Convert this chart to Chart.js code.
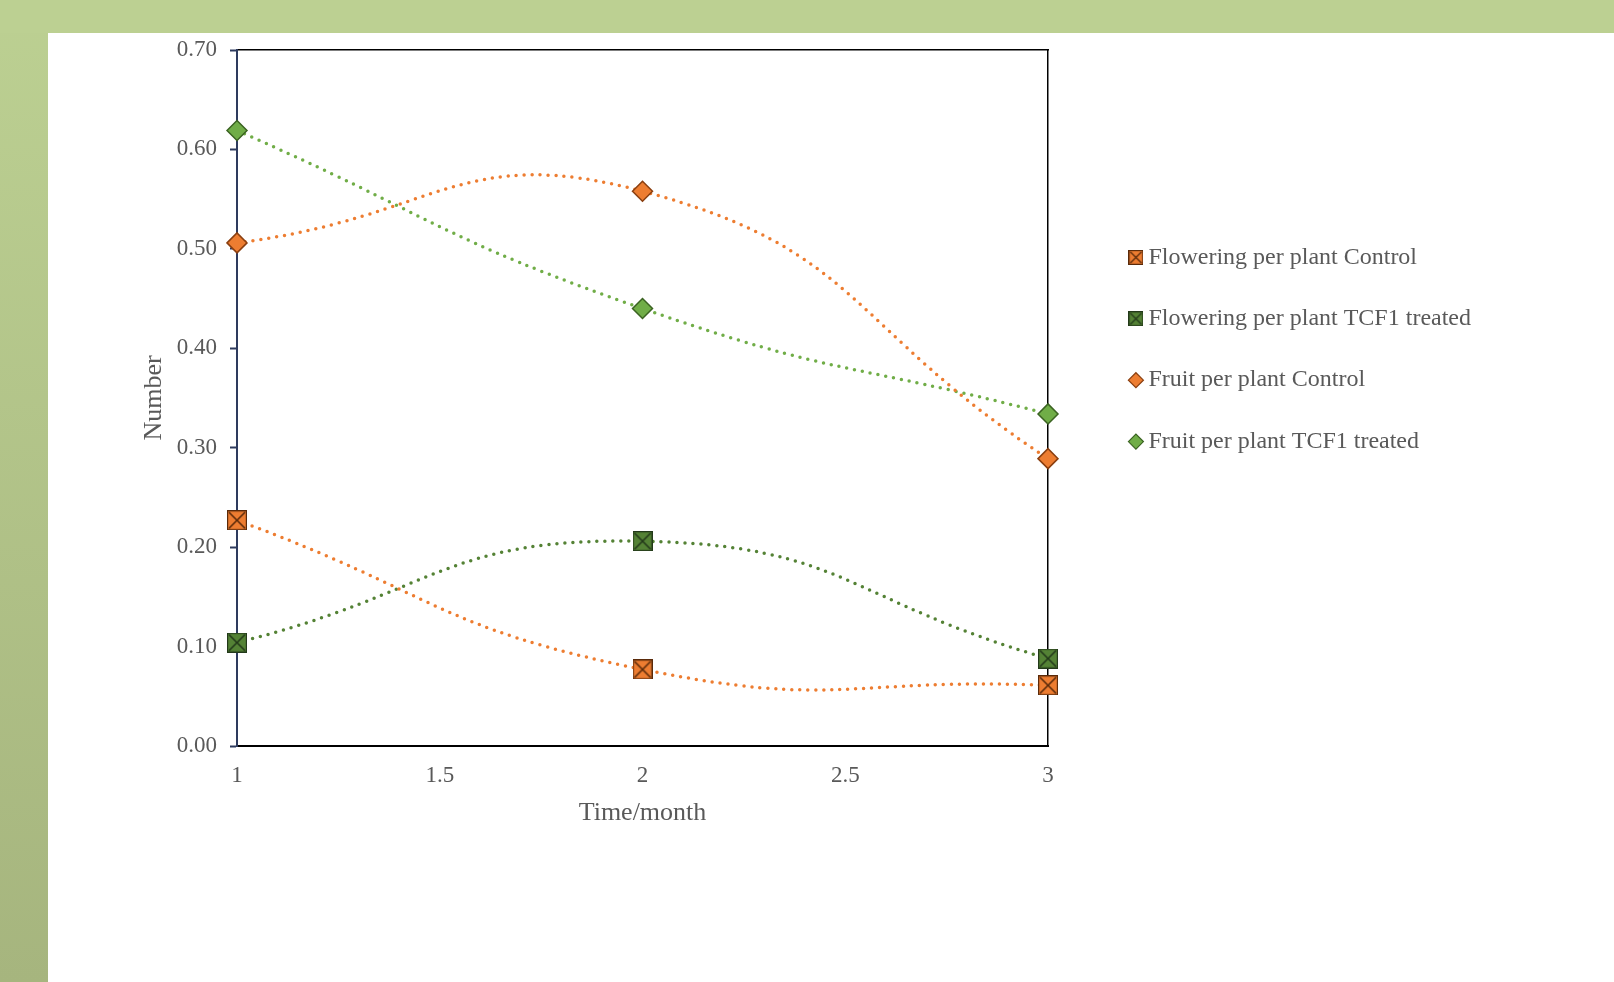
<!DOCTYPE html>
<html>
<head>
<meta charset="utf-8">
<script src="https://cdn.jsdelivr.net/npm/chart.js@4/dist/chart.umd.min.js"></script>
<style>
  html, body { margin: 0; padding: 0; }
  body {
    width: 1614px; height: 982px; overflow: hidden; position: relative;
    background: linear-gradient(to bottom, #bcd092, #a6b57e);
  }
  #topband { position: absolute; left: 0; top: 0; width: 1614px; height: 33px; background: #bcd092; }
  #panel { position: absolute; left: 48px; top: 33px; width: 1566px; height: 949px; background: #fff; }
</style>
</head>
<body>
<div id="topband"></div>
<div id="panel"><canvas id="myChart" width="1566" height="949"></canvas></div>
<script>
var months = [1, 2, 3];
var floweringControl = [0.227, 0.077, 0.061];
var floweringTreated = [0.104, 0.206, 0.088];
var fruitControl = [0.506, 0.558, 0.289];
var fruitTreated = [0.619, 0.440, 0.334];
var seriesLabels = ['Flowering per plant Control', 'Flowering per plant TCF1 treated',
    'Fruit per plant Control', 'Fruit per plant TCF1 treated'];

var orange = '#ED7D31', orangeDark = '#8a3f10';
var darkGreen = '#548235', darkGreenEdge = '#2f4a1c';
var lightGreen = '#70AD47', lightGreenEdge = '#3b6322';
var textGrey = '#595959';

// square marker with an X through it
function crossSquare(size, fill, edge) {
    var c = document.createElement('canvas');
    c.width = size; c.height = size;
    var g = c.getContext('2d');
    g.fillStyle = fill;
    g.fillRect(0, 0, size, size);
    g.strokeStyle = edge;
    g.lineWidth = 1.2;
    g.strokeRect(0.6, 0.6, size - 1.2, size - 1.2);
    g.lineWidth = size > 16 ? 1.6 : 1.3;
    g.beginPath();
    g.moveTo(2, 2); g.lineTo(size - 2, size - 2);
    g.moveTo(size - 2, 2); g.lineTo(2, size - 2);
    g.stroke();
    return c;
}
var sqOrange = crossSquare(20, orange, '#5a2a0a');
var sqGreen = crossSquare(20, darkGreen, '#23391a');
var sqOrangeSmall = crossSquare(15, orange, '#5a2a0a');
var sqGreenSmall = crossSquare(15, darkGreen, '#23391a');

function toPoints(vals) {
    return vals.map(function (v, i) { return { x: months[i], y: v }; });
}

function lineSet(label, vals, color, style, fill, edge, radius) {
    return {
        label: label,
        data: toPoints(vals),
        borderColor: color,
        borderWidth: 3.5,
        borderDash: [0, 8],
        borderCapStyle: 'round',
        tension: 0.5,
        clip: false,
        pointStyle: style,
        pointRadius: radius,
        pointHoverRadius: radius,
        pointBackgroundColor: fill,
        pointBorderColor: edge,
        pointBorderWidth: 1.5,
        backgroundColor: fill
    };
}

Chart.defaults.font.family = '"Liberation Serif", "Times New Roman", serif';
Chart.defaults.color = textGrey;

var ctx = document.getElementById('myChart').getContext('2d');
var myChart = new Chart(ctx, {
    type: 'line',
    data: {
        datasets: [
            lineSet(seriesLabels[0], floweringControl, orange, sqOrange, orange, orangeDark, 10),
            lineSet(seriesLabels[1], floweringTreated, darkGreen, sqGreen, darkGreen, darkGreenEdge, 10),
            lineSet(seriesLabels[2], fruitControl, orange, 'rectRot', orange, orangeDark, 10),
            lineSet(seriesLabels[3], fruitTreated, lightGreen, 'rectRot', lightGreen, lightGreenEdge, 10)
        ]
    },
    options: {
        responsive: false,
        animation: false,
        layout: { padding: { left: 0, top: 17, right: 133, bottom: 153 } },
        scales: {
            x: {
                type: 'linear',
                min: 1,
                max: 3,
                afterFit: function (s) { s.height = 83; },
                ticks: {
                    stepSize: 0.5, padding: 16, font: { size: 23 }, color: textGrey,
                    callback: function (v) { return String(v); }
                },
                grid: { display: true, drawOnChartArea: false, drawTicks: false, color: '#000' },
                border: { display: true, color: '#000', width: 2 },
                title: { display: true, text: 'Time/month', font: { size: 26 }, color: textGrey, padding: { top: 0, bottom: 0 } }
            },
            x2: {
                type: 'linear',
                position: 'top',
                min: 1,
                max: 3,
                afterFit: function (s) { s.height = 0; },
                ticks: { display: false },
                grid: { drawOnChartArea: false, drawTicks: false },
                border: { display: true, color: '#000', width: 1.5 }
            },
            y: {
                min: 0,
                max: 0.7,
                afterFit: function (s) { s.width = 189; s.paddingTop = 0; s.paddingBottom = 0; },
                ticks: {
                    stepSize: 0.1,
                    padding: 13,
                    font: { size: 23 },
                    color: textGrey,
                    callback: function (v) { return v.toFixed(2); }
                },
                grid: { drawOnChartArea: false, drawTicks: true, tickLength: 7, color: '#2e3b5e', tickWidth: 2 },
                border: { display: true, color: '#2e3b5e', width: 2 },
                title: { display: true, text: 'Number', font: { size: 26 }, color: textGrey, padding: { top: 91, bottom: 0 } }
            },
            y2: {
                position: 'right',
                min: 0,
                max: 0.7,
                afterFit: function (s) { s.width = 50; },
                ticks: { display: false },
                grid: { drawOnChartArea: false, drawTicks: false },
                border: { display: true, color: '#000', width: 1.5 }
            }
        },
        plugins: {
            tooltip: { enabled: false },
            legend: {
                display: true,
                position: 'right',
                align: 'start',
                fullSize: false,
                maxWidth: 480,
                title: { display: true, text: '', font: { size: 10 }, padding: { top: 146, bottom: 0 } },
                labels: {
                    usePointStyle: true,
                    boxWidth: 1,
                    boxHeight: 10.6,
                    padding: 37.4,
                    color: textGrey,
                    font: { size: 24 },
                    generateLabels: function (chart) {
                        var items = Chart.defaults.plugins.legend.labels.generateLabels(chart);
                        items.forEach(function (it, i) {
                            if (i === 0) it.pointStyle = sqOrangeSmall;
                            if (i === 1) it.pointStyle = sqGreenSmall;
                            it.lineWidth = 1.2;
                            it.lineDash = [];
                        });
                        return items;
                    }
                }
            }
        }
    }
});
</script>
</body>
</html>
